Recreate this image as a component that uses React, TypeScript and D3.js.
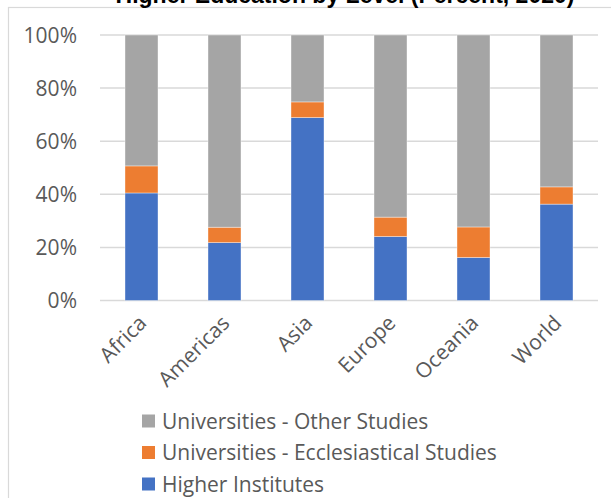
import React from "react";
import * as d3 from "d3";

const categories = ["Africa", "Americas", "Asia", "Europe", "Oceania", "World"];
const higherInstitutes = [40.5, 21.8, 68.9, 24.1, 16.2, 36.3];
const ecclesiastical = [10.2, 5.8, 5.9, 7.3, 11.5, 6.5];
const otherStudies = [49.3, 72.4, 25.2, 68.6, 72.3, 57.2];
const yTicks = [0, 20, 40, 60, 80, 100];
const seriesNames = ["Higher Institutes", "Universities - Ecclesiastical Studies", "Universities - Other Studies"];
const seriesColors = ["#4472c4", "#ed7d31", "#a5a5a5"];

export default function App() {
  const W = 611, H = 498;
  const x = d3.scaleBand().domain(categories).range([100, 598]).paddingInner(0.6024).paddingOuter(0.3012);
  const y = d3.scaleLinear().domain([0, 100]).range([300.5, 35]);
  const rows = categories.map((c, i) => ({ c, hi: higherInstitutes[i], ec: ecclesiastical[i], ot: otherStudies[i] }));
  const stack = d3.stack<any>().keys(["hi", "ec", "ot"])(rows);
  const font = "'Open Sans', 'Noto Sans', sans-serif";
  const legendOrder = [2, 1, 0];
  return (
    <svg width={W} height={H} style={{ position: "absolute", left: 0, top: 0, background: "#fff" }}>
      <rect x={8.5} y={7.5} width={W + 20} height={H + 20} fill="#fff" stroke="#d9d9d9" strokeWidth={1.2} />
      <text x={345} y={3} textAnchor="middle" fontFamily="'Liberation Sans', Arial, sans-serif" fontWeight="bold" fontSize={23} fill="#000">
        Higher Education by Level (Percent, 2020)
      </text>
      {yTicks.map((t) => (
        <g key={t}>
          <line x1={100} x2={598} y1={y(t)} y2={y(t)} stroke="#d9d9d9" strokeWidth={1.5} />
          <text x={77} y={y(t)} dy="0.36em" textAnchor="end" fontFamily={font} fontSize={21} fill="#595959">{t}%</text>
        </g>
      ))}
      {stack.map((s, si) => (
        <g key={si} fill={seriesColors[si]}>
          {s.map((d: any, i: number) => (
            <rect key={i} x={x(categories[i])!} width={x.bandwidth()} y={y(d[1])} height={y(d[0]) - y(d[1])} stroke="#fff" strokeOpacity={0.5} strokeWidth={0.75} />
          ))}
        </g>
      ))}
      {categories.map((c) => {
        const cx = x(c)! + x.bandwidth() / 2 + 1;
        return (
          <text key={c} transform={`translate(${cx},${319}) rotate(-45)`} textAnchor="end" dy="0.36em" fontFamily={font} fontSize={21} fill="#595959">{c}</text>
        );
      })}
      {legendOrder.map((si, k) => (
        <g key={si} transform={`translate(142,${421 + k * 31.5})`}>
          <rect x={0} y={-6.5} width={13} height={13} fill={seriesColors[si]} />
          <text x={20} y={0} dy="0.36em" fontFamily={font} fontSize={21} fill="#595959">{seriesNames[si]}</text>
        </g>
      ))}
    </svg>
  );
}
